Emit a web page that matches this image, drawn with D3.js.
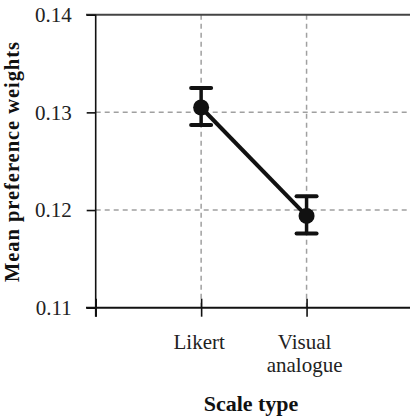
<!DOCTYPE html>
<html><head><meta charset="utf-8">
<script src="https://cdn.jsdelivr.net/npm/d3@7"></script>
<style>body{margin:0;background:#fff}svg{display:block}text{font-family:"Liberation Serif","DejaVu Serif",serif}</style>
</head><body>
<script>
const categories = ["Likert", "Visual analogue"];
const categoryLabels = [["Likert"], ["Visual", "analogue"]];
const means = [0.1305, 0.1194];
const lower = [0.1287, 0.1176];
const upper = [0.1325, 0.1214];
const yTicks = [0.11, 0.12, 0.13, 0.14];
const yTitle = "Mean preference weights";
const xTitle = "Scale type";

const W = 410, H = 420;
const svg = d3.select("body").append("svg").attr("width", W).attr("height", H);
const font = '"Liberation Serif", "DejaVu Serif", serif';

const y = d3.scaleLinear().domain([0.11, 0.14]).range([307.7, 14.7]);
const x = d3.scaleLinear().domain([0, 3]).range([95.7, 412]);
const xPos = i => x(i + 1);

// grid
const g = svg.append("g");
g.selectAll(".hg").data(yTicks.slice(1, 3)).enter().append("line")
  .attr("x1", x(0)).attr("x2", W).attr("y1", d => y(d)).attr("y2", d => y(d))
  .attr("stroke", "#a0a0a0").attr("stroke-width", 1.5).attr("stroke-dasharray", "5,4");
g.selectAll(".vg").data(categories).enter().append("line")
  .attr("x1", (d, i) => xPos(i)).attr("x2", (d, i) => xPos(i))
  .attr("y1", y(0.14)).attr("y2", y(0.11))
  .attr("stroke", "#a0a0a0").attr("stroke-width", 1.5).attr("stroke-dasharray", "5,4");

// top border
svg.append("line").attr("x1", 86).attr("x2", W).attr("y1", y(0.14)).attr("y2", y(0.14))
  .attr("stroke", "#444").attr("stroke-width", 2);

// y axis
const yAxis = d3.axisLeft(y).tickValues(yTicks).tickFormat(d3.format(".2f")).tickSizeInner(9).tickSizeOuter(0).tickPadding(15);
const ya = svg.append("g").attr("transform", `translate(${x(0)},0)`).call(yAxis);
ya.attr("font-family", null).attr("font-size", null);
ya.select(".domain").remove();
ya.selectAll(".tick line").attr("stroke", "#111").attr("stroke-width", 1.6);
ya.selectAll(".tick text").style("font-family", font).style("font-size", "21px").attr("fill", "#222");
svg.append("line").attr("x1", x(0)).attr("x2", x(0)).attr("y1", y(0.14)).attr("y2", y(0.11) + 9)
  .attr("stroke", "#111").attr("stroke-width", 1.6);

// x axis
const xAxis = d3.axisBottom(x).tickValues([0, 1, 2]).tickFormat("").tickSizeInner(9).tickSizeOuter(0);
const xa = svg.append("g").attr("transform", `translate(0,${y(0.11)})`).call(xAxis);
xa.select(".domain").remove();
xa.selectAll(".tick line").attr("stroke", "#111").attr("stroke-width", 1.6).attr("y1", -9);
svg.append("line").attr("x1", 86).attr("x2", W).attr("y1", y(0.11)).attr("y2", y(0.11))
  .attr("stroke", "#111").attr("stroke-width", 2);

// category labels
categoryLabels.forEach((lines, i) => {
  const t = svg.append("text").attr("text-anchor", "middle")
    .style("font-family", font).style("font-size", "21px").attr("fill", "#222");
  lines.forEach((s, j) => t.append("tspan").attr("x", xPos(i) - 2).attr("y", 349 + j * 23).text(s));
});

// titles
svg.append("text").attr("x", 251).attr("y", 411).attr("text-anchor", "middle")
  .style("font-family", font).style("font-size", "22px").attr("font-weight", "bold").attr("fill", "#111").text(xTitle);
svg.append("text").attr("transform", `translate(19,162) rotate(-90)`).attr("text-anchor", "middle")
  .style("font-family", font).style("font-size", "20.5px").attr("font-weight", "bold").attr("fill", "#111")
  .attr("textLength", 240).attr("lengthAdjust", "spacing").text(yTitle);

// data line
const line = d3.line().x((d, i) => xPos(i)).y(d => y(d));
svg.append("path").datum(means).attr("d", line).attr("fill", "none").attr("stroke", "#111").attr("stroke-width", 4);

// error bars
const eb = svg.append("g");
means.forEach((m, i) => {
  eb.append("line").attr("x1", xPos(i)).attr("x2", xPos(i)).attr("y1", y(lower[i])).attr("y2", y(upper[i]))
    .attr("stroke", "#111").attr("stroke-width", 3.5);
  [lower[i], upper[i]].forEach(v => eb.append("line")
    .attr("x1", xPos(i) - 10).attr("x2", xPos(i) + 10).attr("y1", y(v)).attr("y2", y(v))
    .attr("stroke", "#111").attr("stroke-width", 4).attr("stroke-linecap", "round"));
});
svg.selectAll(".pt").data(means).enter().append("circle")
  .attr("cx", (d, i) => xPos(i)).attr("cy", d => y(d)).attr("r", 8).attr("fill", "#111");
</script>
</body></html>
